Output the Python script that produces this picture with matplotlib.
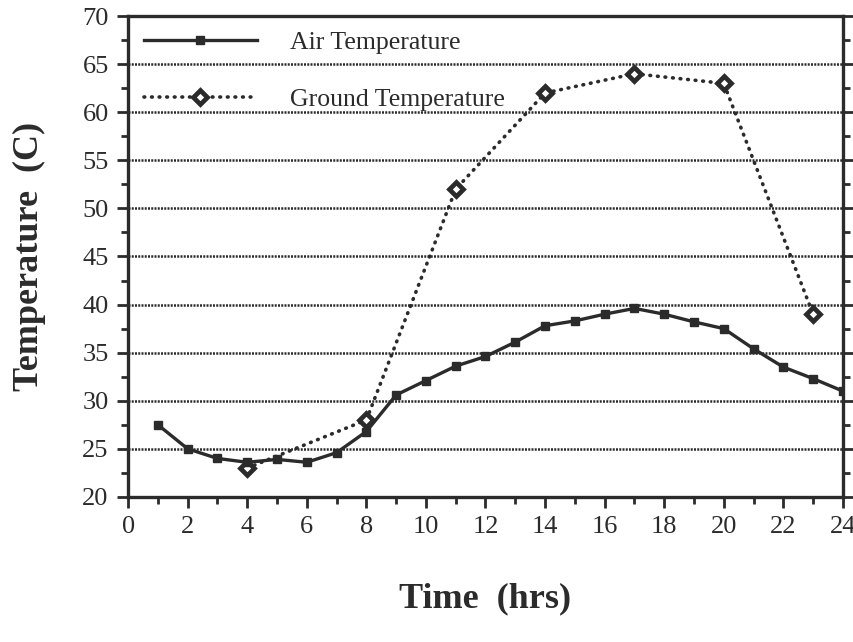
import numpy as np
import matplotlib.pyplot as plt
from matplotlib.ticker import MultipleLocator

plt.rcParams['font.family'] = ['Liberation Serif', 'DejaVu Serif']

air_hours = list(range(1, 25))
air_temp = [27.5, 25.0, 24.0, 23.6, 23.9, 23.6, 24.6, 26.8, 30.6, 32.1, 33.6, 34.6,
            36.1, 37.8, 38.3, 39.0, 39.6, 39.0, 38.2, 37.5, 35.4, 33.5, 32.3, 31.0]

ground_hours = [4, 8, 11, 14, 17, 20, 23]
ground_temp = [23.0, 28.0, 52.0, 62.0, 64.0, 63.0, 39.0]

col = "#2b2b2b"

fig = plt.figure(figsize=(8.54, 6.42), dpi=100)
ax = fig.add_axes([0.150, 0.226, 0.837, 0.749])

for y in range(25, 70, 5):
    ax.axhline(y, color=col, lw=1.8, ls=(0, (0.8, 0.5)), zorder=1)

ax.plot(air_hours, air_temp, color=col, lw=2.4, marker="s", ms=6,
        label="Air Temperature", zorder=3)
ax.plot(ground_hours, ground_temp, color=col, lw=2.6, ls=(0, (0.2, 1.9)),
        dash_capstyle="round", marker="D", ms=7, mfc="white", mec=col, mew=3.4,
        label="Ground Temperature", zorder=2)

ax.set_xlim(0, 24)
ax.set_ylim(20, 70)
ax.xaxis.set_major_locator(MultipleLocator(2))
ax.xaxis.set_minor_locator(MultipleLocator(1))
ax.yaxis.set_major_locator(MultipleLocator(5))
ax.yaxis.set_minor_locator(MultipleLocator(2.5))
ax.tick_params(which="both", direction="out", right=True, top=False,
               colors=col, width=2)
ax.tick_params(which="major", length=8, labelsize=19, pad=6)
ax.tick_params(which="minor", length=5)
for s in ax.spines.values():
    s.set_linewidth(2.4)
    s.set_color(col)

ax.set_xlabel("Time  (hrs)", fontsize=26, fontweight="bold", color=col, labelpad=32)
ax.set_ylabel("Temperature  (C)", fontsize=26, fontweight="bold", color=col, labelpad=26)

leg = ax.legend(loc="upper left", frameon=False, fontsize=18.5, handlelength=4.4,
                handletextpad=1.3, labelspacing=1.3, bbox_to_anchor=(0.0, 1.0),
                borderaxespad=0.2, borderpad=0.4)
for t in leg.get_texts():
    t.set_color(col)

fig.savefig("out.png", dpi=100, facecolor="white")
